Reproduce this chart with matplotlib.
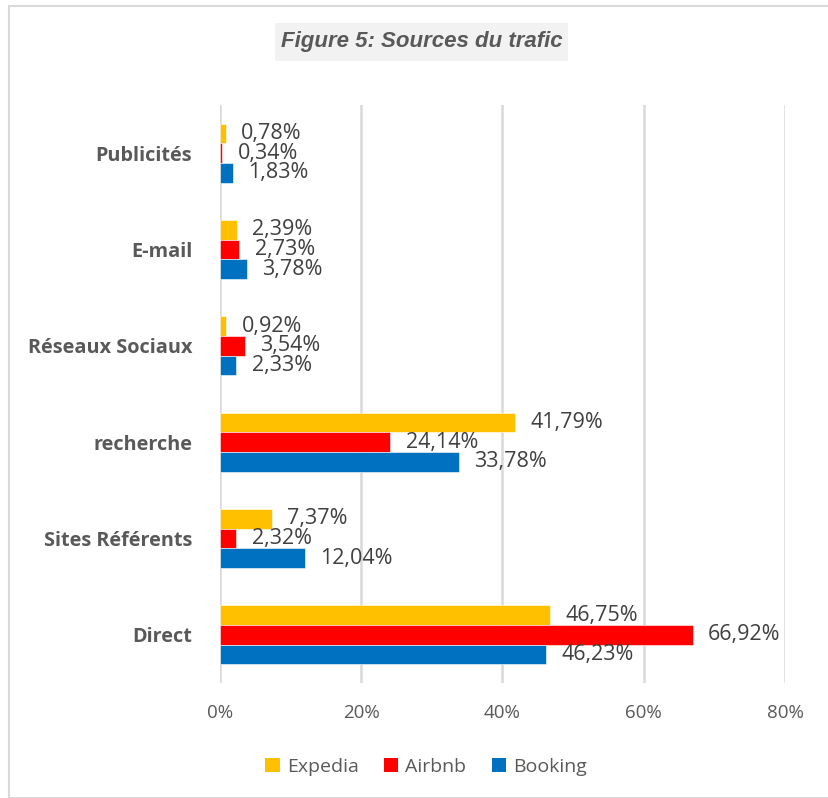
import matplotlib.pyplot as plt
import numpy as np
from matplotlib.patches import Rectangle, Patch

# données
categories = ['Publicités', 'E-mail', 'Réseaux Sociaux', 'recherche', 'Sites Référents', 'Direct']
expedia = [0.78, 2.39, 0.92, 41.79, 7.37, 46.75]
airbnb = [0.34, 2.73, 3.54, 24.14, 2.32, 66.92]
booking = [1.83, 3.78, 2.33, 33.78, 12.04, 46.23]
series_names = ['Expedia', 'Airbnb', 'Booking']
colors = ['#FFC000', '#FF0000', '#0070C0']
xticks = [0, 20, 40, 60, 80]

plt.rcParams['font.family'] = ['Open Sans', 'DejaVu Sans']

fig = plt.figure(figsize=(8.29, 7.98), dpi=100)
W, H = 829, 798

# cadre du graphique
fig.patches.append(Rectangle((9 / W, 0), 1, 1 - 6 / H, transform=fig.transFigure,
                             fill=False, edgecolor='#D9D9D9', linewidth=1.5))
# titre avec fond gris
fig.patches.append(Rectangle((275 / W, 1 - 61 / H), 293 / W, 38 / H, transform=fig.transFigure,
                             facecolor='#F2F2F2', edgecolor='none'))
fig.text(422 / W, 1 - 42 / H, 'Figure 5: Sources du trafic', ha='center', va='center',
         family='Liberation Sans', fontweight='bold', fontstyle='italic', fontsize=16,
         color='#595959')

ax = fig.add_axes([220 / W, 1 - 683 / H, (785 - 220) / W, (683 - 105) / H])

y = np.arange(len(categories))
h = 0.205
all_series = [expedia, airbnb, booking]
for i, (vals, name, c) in enumerate(zip(all_series, series_names, colors)):
    pos = y + (i - 1) * h
    ax.barh(pos, vals, height=h, color=c, edgecolor='white', linewidth=0.4, label=name, zorder=3)
    for p, v in zip(pos, vals):
        ax.annotate(f'{v:.2f}%'.replace('.', ','), (v, p), xytext=(11, 0),
                    textcoords='offset points', ha='left', va='center',
                    fontsize=15.5, color='#404040')

ax.set_ylim(len(categories) - 0.5, -0.5)
ax.set_xlim(0, 80)
ax.set_yticks(y)
ax.set_yticklabels(categories, fontweight='bold', fontsize=14.3, color='#595959')
ax.set_xticks(xticks)
ax.set_xticklabels([f'{t}%' for t in xticks], fontsize=13.5, color='#595959')
ax.tick_params(axis='y', length=0, pad=20)
ax.tick_params(axis='x', length=0, pad=15)
ax.grid(axis='x', color='#D9D9D9', linewidth=1.8, zorder=0)
for s in ax.spines.values():
    s.set_visible(False)

handles = [Patch(facecolor=c, label=n) for c, n in zip(colors, series_names)]
leg = fig.legend(handles=handles, loc='center', bbox_to_anchor=(426 / W, 1 - 767 / H),
                 ncol=3, frameon=False, fontsize=14, handlelength=0.75, handleheight=0.75,
                 handletextpad=0.35, columnspacing=1.3)
for t in leg.get_texts():
    t.set_color('#595959')

fig.savefig('out.png', dpi=100)
